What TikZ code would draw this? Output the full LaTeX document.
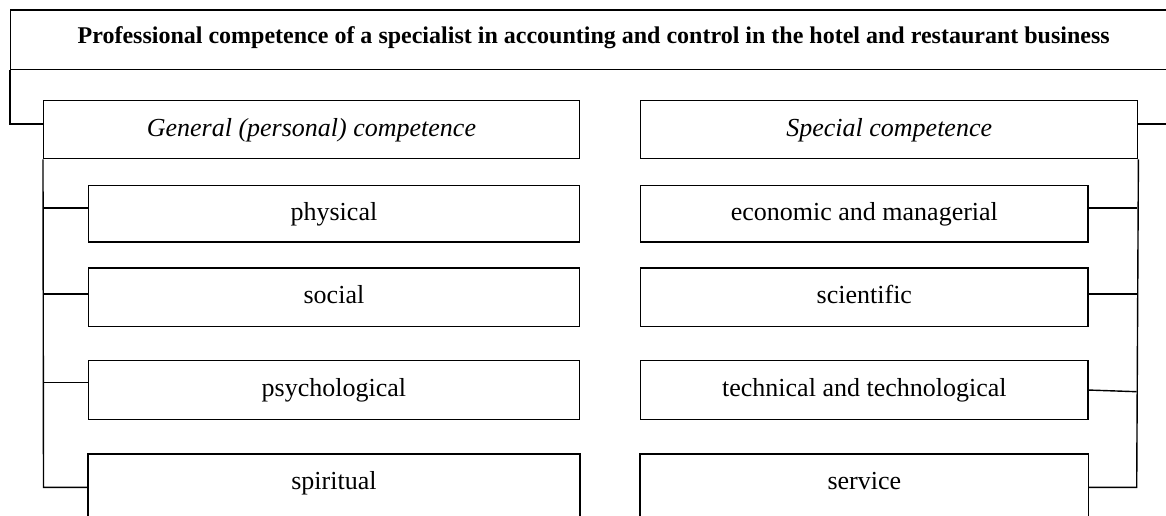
\documentclass[tikz,border=0pt]{standalone}
\usepackage{fontspec}
\setmainfont{Liberation Serif}
\begin{document}
\begin{tikzpicture}[x=1pt,y=-1pt,line width=1.4pt,
  box/.style={anchor=north west,inner sep=0pt,draw,text height=18pt,text depth=5pt,
    font=\fontsize{26}{30}\selectfont},
  openbox/.style={anchor=north west,inner sep=0pt,text height=18pt,text depth=5pt,
    font=\fontsize{26}{30}\selectfont},
  conn/.style={line width=1.4pt}]
\useasboundingbox (0,0) rectangle (1166,516);
\clip (0,0) rectangle (1166,516);
% top box
\node[box,minimum width=1166pt,minimum height=59.5pt,text height=16pt,text depth=8pt,
  font=\fontsize{24}{28}\selectfont\bfseries] (top) at (10,9.5)
  {Professional competence of a specialist in accounting and control in the hotel and restaurant business};
% level 2
\node[box,minimum width=535.5pt,minimum height=58pt,font=\fontsize{26}{30}\selectfont\itshape]
  (gen) at (43,100) {General (personal) competence};
\node[box,minimum width=497pt,minimum height=58pt,font=\fontsize{26}{30}\selectfont\itshape]
  (spec) at (640,100) {Special competence};
% left sub boxes
\node[box,minimum width=490.5pt,minimum height=56.5pt] (phys) at (88,184.7) {physical};
\node[box,minimum width=490.5pt,minimum height=58.4pt] (soc) at (88,267.3) {social};
\node[box,minimum width=490.5pt,minimum height=58.7pt] (psy) at (88,360) {psychological};
\node[openbox,minimum width=490.5pt,minimum height=57pt] (spir) at (88,454) {spiritual};
\draw ([yshift=-12pt]spir.south west) -- (spir.north west) -- (spir.north east) -- ([yshift=-12pt]spir.south east);
% right sub boxes
\node[box,minimum width=447.3pt,minimum height=56.5pt] (eco) at (640,184.7) {economic and managerial};
\node[box,minimum width=447.3pt,minimum height=58.4pt] (sci) at (640,267.3) {scientific};
\node[box,minimum width=447.3pt,minimum height=58.7pt] (tech) at (640,360) {technical and technological};
\node[openbox,minimum width=447.3pt,minimum height=57pt] (serv) at (640,454) {service};
\draw ([yshift=-12pt]serv.south west) -- (serv.north west) -- (serv.north east) -- ([yshift=-12pt]serv.south east);
% connectors top
\coordinate (tl) at (10,124);
\draw[conn] (top.south west) -- (tl) -- (tl -| gen.west);
\coordinate (tr) at (1170,124);
\draw[conn] (tr -| spec.east) -- (tr);
% left trunk
\coordinate (l1) at (43.5,208);
\coordinate (l2) at (43.5,294);
\coordinate (l3) at (43.5,382.3);
\coordinate (l4) at (43.5,487.3);
\draw[conn] (gen.south west) -- (l4) -- (l4 -| spir.west);
\draw[conn] (l1) -- (l1 -| phys.west);
\draw[conn] (l2) -- (l2 -| soc.west);
\draw[conn] (l3) -- (l3 -| psy.west);
% right trunk
\coordinate (r1) at (1136.7,208);
\coordinate (r2) at (1136.7,294);
\coordinate (r3) at (1136.7,391.7);
\coordinate (r4) at (1136.7,487.3);
\coordinate (t3) at (1087.3,390);
\draw[conn] (spec.south east) -- (r4) -- (r4 -| serv.east);
\draw[conn] (r1) -- (r1 -| eco.east);
\draw[conn] (r2) -- (r2 -| sci.east);
\draw[conn] (r3) -- (t3);
\end{tikzpicture}
\end{document}
